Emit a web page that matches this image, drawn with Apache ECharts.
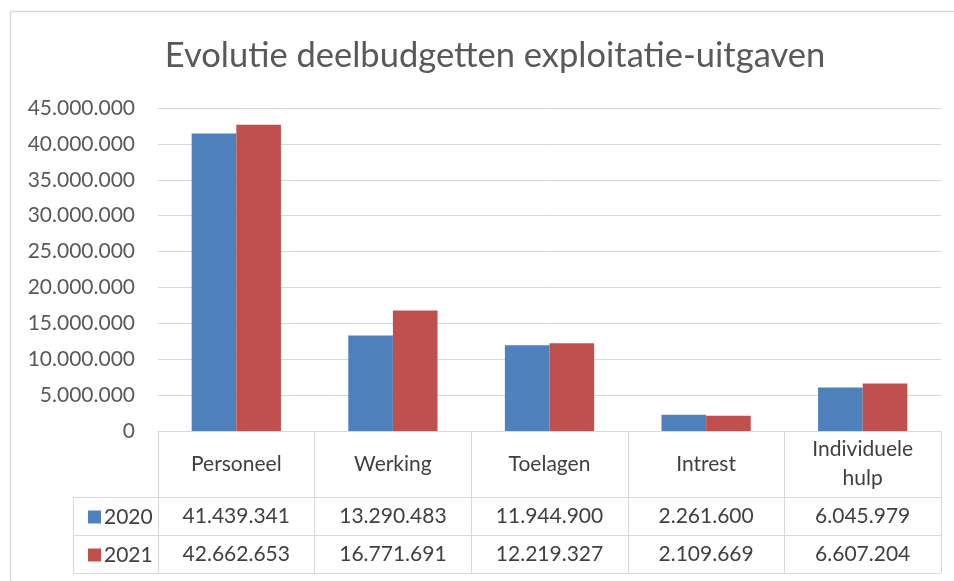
<!DOCTYPE html>
<html>
<head>
<meta charset="utf-8">
<script src="https://cdn.jsdelivr.net/npm/echarts@6/dist/echarts.min.js"></script>
<style>html,body{margin:0;padding:0;background:#fff}#c{width:954px;height:581px}</style>
</head>
<body>
<div id="c"></div>
<script>
const title = 'Evolutie deelbudgetten exploitatie-uitgaven';
const categories = ['Personeel', 'Werking', 'Toelagen', 'Intrest', 'Individuele hulp'];
const seriesNames = ['2020', '2021'];
const values2020 = [41439341, 13290483, 11944900, 2261600, 6045979];
const values2021 = [42662653, 16771691, 12219327, 2109669, 6607204];
const yTicks = [0, 5000000, 10000000, 15000000, 20000000, 25000000, 30000000, 35000000, 40000000, 45000000];

function fmt(v) { return String(v).replace(/\B(?=(\d{3})+(?!\d))/g, '.'); }

const FONT = 'Lato';
const GRID_L = 158, GRID_R = 941, GRID_T = 108, AXIS_Y = 431;
const ROW1 = 497, ROW2 = 535, ROW3 = 573, TABLE_L = 73;
const LINE = '#d9d9d9';

const chart = echarts.init(document.getElementById('c'));
const baseCat = {
  type: 'category', data: categories, position: 'bottom',
  axisLine: { show: false }, axisTick: { show: false }, splitLine: { show: false }
};
chart.setOption({
  animation: false,
  title: {
    text: title, left: 490, textAlign: 'center', top: 33,
    textStyle: { fontFamily: FONT, fontWeight: 'normal', fontSize: 34.5, color: '#595959' }
  },
  legend: {
    orient: 'vertical', left: 83, top: 500, itemWidth: 13, itemHeight: 13, itemGap: 14,
    icon: 'rect', data: seriesNames,
    textStyle: { fontFamily: FONT, fontSize: 21, color: '#404040', lineHeight: 24, padding: [0, 0, 0, -2] }
  },
  grid: { left: GRID_L, right: 954 - GRID_R, top: GRID_T, bottom: 581 - AXIS_Y, containLabel: false },
  yAxis: {
    type: 'value', min: yTicks[0], max: yTicks[yTicks.length - 1], interval: yTicks[1] - yTicks[0],
    axisLine: { show: false }, axisTick: { show: false },
    splitLine: { lineStyle: { color: LINE, width: 1 } },
    axisLabel: { margin: 23, fontFamily: FONT, fontSize: 21, color: '#595959', formatter: v => fmt(v) }
  },
  xAxis: [
    Object.assign({}, baseCat, {
      axisLine: { show: true, lineStyle: { color: LINE, width: 1 } },
      axisTick: { show: true, length: ROW3 - AXIS_Y, lineStyle: { color: LINE, width: 1 } },
      axisLabel: {
        margin: 33, verticalAlign: 'middle', interval: 0, width: 120, overflow: 'break',
        lineHeight: 29, fontFamily: FONT, fontSize: 21, color: '#404040',
        formatter: v => v === 'Individuele hulp' ? 'Individuele\nhulp' : v
      }
    }),
    Object.assign({}, baseCat, {
      axisLabel: {
        margin: 85, verticalAlign: 'middle', interval: 0, fontFamily: FONT, fontSize: 21, color: '#404040',
        formatter: (v, i) => fmt(values2020[i])
      }
    }),
    Object.assign({}, baseCat, {
      axisLabel: {
        margin: 123, verticalAlign: 'middle', interval: 0, fontFamily: FONT, fontSize: 21, color: '#404040',
        formatter: (v, i) => fmt(values2021[i])
      }
    })
  ],
  series: [
    { name: seriesNames[0], type: 'bar', xAxisIndex: 0, data: values2020, barGap: '0%', barCategoryGap: '43%',
      itemStyle: { color: '#4f81bd' } },
    { name: seriesNames[1], type: 'bar', xAxisIndex: 0, data: values2021, barGap: '0%', barCategoryGap: '43%',
      itemStyle: { color: '#c0504d' } }
  ],
  graphic: [
    { type: 'rect', shape: { x: 10.5, y: 11.5, width: 1000, height: 700 }, style: { fill: null, stroke: '#d9d9d9', lineWidth: 1.5 }, silent: true },
    { type: 'line', shape: { x1: TABLE_L, y1: ROW1 + 0.5, x2: GRID_R, y2: ROW1 + 0.5 }, style: { stroke: LINE, lineWidth: 1 } },
    { type: 'line', shape: { x1: TABLE_L, y1: ROW2 + 0.5, x2: GRID_R, y2: ROW2 + 0.5 }, style: { stroke: LINE, lineWidth: 1 } },
    { type: 'line', shape: { x1: TABLE_L, y1: ROW3 + 0.5, x2: GRID_R, y2: ROW3 + 0.5 }, style: { stroke: LINE, lineWidth: 1 } },
    { type: 'line', shape: { x1: TABLE_L + 0.5, y1: ROW1, x2: TABLE_L + 0.5, y2: ROW3 }, style: { stroke: LINE, lineWidth: 1 } }
  ]
});
</script>
</body>
</html>
